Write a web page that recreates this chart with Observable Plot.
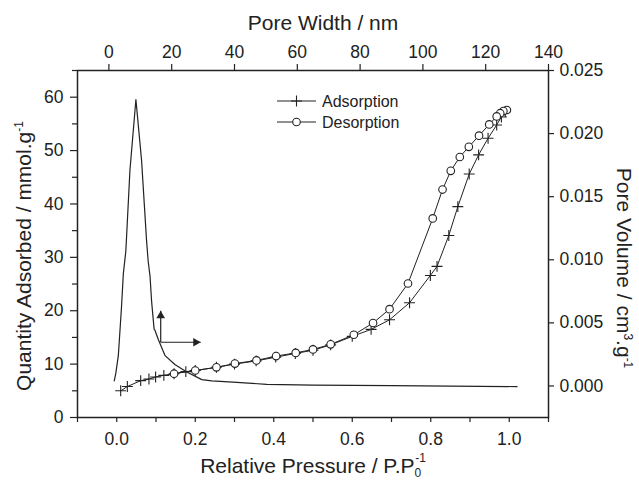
<!DOCTYPE html>
<html><head><meta charset="utf-8">
<script src="https://cdn.jsdelivr.net/npm/d3@7"></script>
<script src="https://cdn.jsdelivr.net/npm/@observablehq/plot@0.6"></script>
<style>
body{margin:0;background:#fff;}
#chart{position:relative;width:639px;height:482px;}
</style>
</head><body><div id="chart"></div>
<script>
// ---- data ----
const adsPressure = [0.010,0.027,0.061,0.082,0.099,0.120,0.146,0.176,0.200,0.254,0.300,0.355,0.405,0.455,0.500,0.545,0.600,0.648,0.695,0.746,0.799,0.816,0.846,0.869,0.898,0.922,0.946,0.968,0.980,0.990];
const adsQuantity = [5.0,5.8,6.9,7.2,7.6,7.9,8.2,8.6,8.8,9.4,10.0,10.6,11.3,12.0,12.6,13.6,15.2,16.5,18.3,21.5,26.6,28.3,34.1,39.5,45.6,49.2,52.3,54.8,56.3,57.3];
const desPressure = [0.994,0.985,0.977,0.968,0.949,0.923,0.897,0.874,0.851,0.830,0.805,0.742,0.695,0.653,0.604,0.545,0.500,0.456,0.406,0.356,0.301,0.254,0.200,0.146];
const desQuantity = [57.6,57.4,57.0,56.4,54.9,52.8,50.7,48.8,46.2,42.7,37.3,25.1,20.3,17.7,15.5,13.7,12.75,12.1,11.5,10.7,10.1,9.4,8.8,8.2];
const poreWidth = [1.7,2.2,3.0,4.0,4.6,5.4,6.7,8.6,10.4,12.0,12.5,13.1,13.6,14.4,14.7,15.7,17.9,21.0,24.8,29.6,32.7,39.5,50.3,65,90,130];
const poreVolume = [0.0004,0.0010,0.0024,0.0062,0.0089,0.0107,0.0171,0.0227,0.0179,0.0115,0.0099,0.0087,0.0067,0.0045,0.0044,0.0037,0.0024,0.0017,0.0011,0.0005,0.0004,0.0003,0.00013,0.00006,0.00002,-0.00005];

const pressureTicks = [0,0.2,0.4,0.6,0.8,1.0];
const pressureMinorTicks = [-0.1,0.1,0.3,0.5,0.7,0.9,1.1];
const quantityTicks = [0,10,20,30,40,50,60];
const quantityMinorTicks = [5,15,25,35,45,55,65];
const widthTicks = [0,20,40,60,80,100,120,140];
const volumeTicks = [0,0.005,0.010,0.015,0.020,0.025];

const pressureDomain = [-0.1,1.1];
const quantityDomain = [0,65];
const widthDomain = [-10,140];
const volumeDomain = [-0.0025,0.025];

// annotation arrow (in pressure / quantity units)
const arrowBase = [{p:0.112, q:14.1, pTo:0.214, qTo:20.0}];
const legendItems = ["Adsorption","Desorption"];

// ---- mapping secondary axes onto primary scales ----
const lin = (d0, d1) => v => d1[0] + (v - d0[0]) / (d0[1]-d0[0]) * (d1[1]-d1[0]);
const wToP = lin(widthDomain, pressureDomain), pToW = lin(pressureDomain, widthDomain);
const vToQ = lin(volumeDomain, quantityDomain), qToV = lin(quantityDomain, volumeDomain);

const ads = adsPressure.map((p,i)=>({p, q:adsQuantity[i]}));
const des = desPressure.map((p,i)=>({p, q:desQuantity[i]}));
const psd = poreWidth.map((w,i)=>({p:wToP(w), q:vToQ(poreVolume[i])}));

const INK = "#222";
const FONT = "'Liberation Sans', Arial, Helvetica, sans-serif";
const TICKFS = 17.5;

const plot = Plot.plot({
  width:639, height:482,
  marginLeft:77, marginRight:91, marginTop:70, marginBottom:65,
  x:{domain:pressureDomain},
  y:{domain:quantityDomain},
  style:{fontFamily:FONT, fontSize:"17px", color:INK, background:"#fff"},
  marks:[
    Plot.axisX(pressureTicks,{anchor:"bottom", tickSize:5, tickPadding:10, fontSize:TICKFS, tickFormat:d3.format(".1f"), stroke:INK, strokeWidth:1.2, fill:INK, label:null}),
    Plot.axisX(pressureMinorTicks,{anchor:"bottom", tickSize:5, tickFormat:()=>"", stroke:INK, strokeWidth:1.2, label:null}),
    Plot.axisY(quantityTicks,{anchor:"left", tickSize:7, tickPadding:7, fontSize:TICKFS, tickFormat:d3.format("d"), stroke:INK, strokeWidth:1.2, fill:INK, label:null}),
    Plot.axisY(quantityMinorTicks,{anchor:"left", tickSize:5, tickFormat:()=>"", stroke:INK, strokeWidth:1.2, label:null}),
    Plot.axisX(widthTicks.map(wToP),{anchor:"top", tickSize:7, tickPadding:6, fontSize:TICKFS, tickFormat:d=>String(Math.round(pToW(d))), stroke:INK, strokeWidth:1.2, fill:INK, label:null}),
    Plot.axisY(volumeTicks.map(vToQ),{anchor:"right", tickSize:5, tickPadding:6, fontSize:TICKFS, tickFormat:d=>{const v=qToV(d); return d3.format(".3f")(Math.abs(v)<1e-9?0:v);}, stroke:INK, strokeWidth:1.2, fill:INK, label:null}),
    Plot.frame({stroke:INK, strokeWidth:1.5}),
    Plot.line(psd,{x:"p", y:"q", stroke:INK, strokeWidth:1.2}),
    Plot.line(ads,{x:"p", y:"q", stroke:INK, strokeWidth:1}),
    Plot.dot(ads,{x:"p", y:"q", symbol:"plus", r:3.6, stroke:INK, strokeWidth:1.1}),
    Plot.line(des,{x:"p", y:"q", stroke:INK, strokeWidth:1}),
    Plot.dot(des,{x:"p", y:"q", symbol:"circle", r:3.8, fill:"#fff", stroke:INK, strokeWidth:1.1}),
    Plot.link(arrowBase,{x1:"p", y1:"q", x2:"p", y2:"qTo", stroke:INK, strokeWidth:1.2}),
    Plot.link(arrowBase,{x1:"p", y1:"q", x2:"pTo", y2:"q", stroke:INK, strokeWidth:1.2}),
    Plot.dot(arrowBase,{x:"p", y:"qTo", symbol:"triangle", r:3.2, fill:INK, dy:5}),
    Plot.dot(arrowBase,{x:"pTo", y:"q", symbol:"triangle", r:3.2, fill:INK, rotate:90, dx:-5})
  ]
});
document.getElementById("chart").appendChild(plot);

// ---- axis titles & legend ----
const svg = d3.select(plot);
const g = svg.append("g").attr("font-family", FONT).attr("fill", INK);
const TFS = 21;

g.append("text").attr("x",323).attr("y",30).attr("text-anchor","middle").attr("font-size",TFS).text("Pore Width / nm");

const bt = g.append("text").attr("x",313).attr("y",473).attr("text-anchor","middle").attr("font-size",TFS);
bt.append("tspan").text("Relative Pressure / P.P");
bt.append("tspan").attr("font-size",12).attr("dy",4).text("0");
bt.append("tspan").attr("font-size",12).attr("dx",-6).attr("dy",-15).text("-1");

const lt = g.append("text").attr("transform","translate(31,256) rotate(-90)").attr("text-anchor","middle").attr("font-size",TFS);
lt.append("tspan").text("Quantity Adsorbed / mmol.g");
lt.append("tspan").attr("font-size",12).attr("dy",-8).text("-1");

const rt = g.append("text").attr("transform","translate(617,268) rotate(90)").attr("text-anchor","middle").attr("font-size",TFS);
rt.append("tspan").text("Pore Volume / cm");
rt.append("tspan").attr("font-size",12).attr("dy",-7).text("3");
rt.append("tspan").attr("dy",7).text(".g");
rt.append("tspan").attr("font-size",12).attr("dy",-7).text("-1");

const lg = svg.append("g").attr("font-family", FONT);
legendItems.forEach((name,i)=>{
  const y = 101 + i*21;
  lg.append("line").attr("x1",277).attr("x2",316).attr("y1",y).attr("y2",y).attr("stroke",INK).attr("stroke-width",1);
  if(i===0){
    lg.append("path").attr("d",d3.symbol(d3.symbolPlus, Math.PI*3.6*3.6)()).attr("transform",`translate(296.5,${y})`).attr("fill","none").attr("stroke",INK).attr("stroke-width",1.1);
  } else {
    lg.append("circle").attr("cx",296.5).attr("cy",y).attr("r",3.8).attr("fill","#fff").attr("stroke",INK).attr("stroke-width",1.1);
  }
  lg.append("text").attr("x",322).attr("y",y).attr("dy","0.35em").attr("text-anchor","start").attr("font-size",16).attr("fill",INK).text(name);
});
</script>
</body></html>
